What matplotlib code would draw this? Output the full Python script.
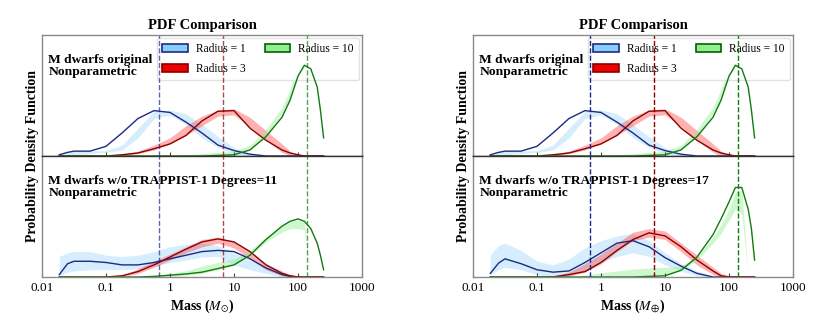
import numpy as np
import matplotlib
matplotlib.use("Agg")
import matplotlib.pyplot as plt
from matplotlib.patches import Patch

plt.rcParams['font.family'] = ['Liberation Serif', 'DejaVu Serif']
plt.rcParams['mathtext.fontset'] = 'stix'

# shared mass grid (log10 of Earth masses)
log_mass = [-1.73, -1.6, -1.5, -1.25, -1.0, -0.75, -0.5, -0.25, 0.0, 0.25, 0.5, 0.75,
            1.0, 1.25, 1.5, 1.75, 1.875, 2.0, 2.1, 2.2, 2.3, 2.35, 2.4]

# "M dwarfs original" (same in both columns)
orig_r1 = [0.01, 0.03, 0.04, 0.04, 0.08, 0.19, 0.31, 0.375, 0.36, 0.28, 0.19, 0.09,
           0.045, 0.015, 0, 0, 0, 0, 0, 0, 0, 0, 0]
orig_r1_lo = [0, 0.005, 0.01, 0.02, 0.03, 0.05, 0.15, 0.31, 0.34, 0.26, 0.15, 0.07,
              0.02, 0, 0, 0, 0, 0, 0, 0, 0, 0, 0]
orig_r1_hi = [0, 0.03, 0.04, 0.04, 0.045, 0.09, 0.23, 0.37, 0.38, 0.35, 0.26, 0.16,
              0.07, 0.01, 0, 0, 0, 0, 0, 0, 0, 0, 0]
orig_r3 = [0, 0, 0, 0, 0, 0.01, 0.025, 0.06, 0.10, 0.17, 0.29, 0.37,
           0.375, 0.23, 0.13, 0.05, 0.025, 0.01, 0, 0, 0, 0, 0]
orig_r3_lo = [0, 0, 0, 0, 0, 0, 0.02, 0.05, 0.10, 0.17, 0.25, 0.33,
              0.34, 0.24, 0.13, 0.03, 0, 0, 0, 0, 0, 0, 0]
orig_r3_hi = [0, 0, 0, 0, 0, 0.015, 0.04, 0.09, 0.15, 0.25, 0.33, 0.38,
              0.39, 0.32, 0.21, 0.10, 0.04, 0.01, 0.005, 0.005, 0.005, 0.005, 0.005]
orig_r10 = [0, 0, 0, 0, 0, 0, 0, 0, 0, 0, 0, 0.005,
            0.01, 0.05, 0.16, 0.32, 0.46, 0.66, 0.75, 0.72, 0.57, 0.38, 0.15]
orig_r10_lo = [0, 0, 0, 0, 0, 0, 0, 0, 0, 0, 0.005, 0.01,
               0.02, 0.06, 0.17, 0.35, 0.48, 0.66, 0.72, 0, 0, 0, 0]
orig_r10_hi = [0, 0, 0, 0, 0, 0, 0, 0, 0, 0.01, 0.02, 0.03,
               0.04, 0.09, 0.22, 0.40, 0.55, 0.74, 0.78, 0, 0, 0, 0]

# "w/o TRAPPIST-1, Degrees=11"
d11_r1 = [0.02, 0.11, 0.13, 0.13, 0.12, 0.10, 0.10, 0.12, 0.15, 0.18, 0.21, 0.22,
          0.21, 0.15, 0.075, 0.02, 0.005, 0, 0, 0, 0, 0, 0]
d11_r1_lo = [0.01, 0.04, 0.05, 0.06, 0.06, 0.06, 0.07, 0.09, 0.12, 0.14, 0.165, 0.17,
             0.10, 0.06, 0.03, 0, 0, 0, 0, 0, 0, 0, 0]
d11_r1_hi = [0.17, 0.20, 0.21, 0.21, 0.18, 0.17, 0.18, 0.21, 0.25, 0.27, 0.28, 0.26,
             0.20, 0.14, 0.08, 0.03, 0.01, 0, 0, 0, 0, 0, 0]
d11_r3 = [0, 0, 0, 0, 0, 0.01, 0.045, 0.10, 0.165, 0.23, 0.29, 0.315,
          0.29, 0.21, 0.10, 0.03, 0.01, 0, 0, 0, 0, 0, 0]
d11_r3_lo = [0, 0, 0, 0, 0, 0, 0.03, 0.08, 0.14, 0.20, 0.25, 0.28,
             0.24, 0.15, 0.06, 0.01, 0, 0, 0, 0, 0, 0, 0]
d11_r3_hi = [0, 0, 0, 0, 0, 0.01, 0.07, 0.13, 0.19, 0.25, 0.31, 0.33,
             0.29, 0.21, 0.11, 0.05, 0.02, 0.01, 0.005, 0.005, 0.005, 0.005, 0.005]
d11_r10 = [0, 0, 0, 0, 0, 0, 0, 0.005, 0.015, 0.025, 0.04, 0.07,
           0.10, 0.18, 0.31, 0.42, 0.46, 0.48, 0.46, 0.40, 0.28, 0.18, 0.06]
d11_r10_lo = [0, 0, 0, 0, 0, 0, 0, 0, 0.005, 0.015, 0.03, 0.06,
              0.10, 0.18, 0.29, 0.37, 0.40, 0.40, 0.39, 0, 0, 0, 0]
d11_r10_hi = [0, 0, 0, 0, 0, 0, 0, 0.01, 0.03, 0.05, 0.09, 0.12,
              0.15, 0.22, 0.33, 0.42, 0.46, 0.47, 0.45, 0, 0, 0, 0]

# "w/o TRAPPIST-1, Degrees=17"
d17_r1 = [0.03, 0.115, 0.15, 0.11, 0.06, 0.04, 0.05, 0.12, 0.20, 0.28, 0.30, 0.25,
          0.16, 0.09, 0.03, 0, 0, 0, 0, 0, 0, 0, 0]
d17_r1_lo = [0.02, 0.06, 0.08, 0.06, 0.02, 0, 0, 0.05, 0.12, 0.17, 0.20, 0.17,
             0.10, 0.05, 0.01, 0, 0, 0, 0, 0, 0, 0, 0]
d17_r1_hi = [0.18, 0.26, 0.28, 0.22, 0.13, 0.10, 0.15, 0.24, 0.30, 0.34, 0.36, 0.30,
             0.20, 0.11, 0.05, 0.01, 0, 0, 0, 0, 0, 0, 0]
d17_r3 = [0, 0, 0, 0, 0, 0, 0.02, 0.045, 0.12, 0.22, 0.31, 0.365,
          0.34, 0.25, 0.14, 0.05, 0.01, 0, 0, 0, 0, 0, 0]
d17_r3_lo = [0, 0, 0, 0, 0, 0, 0.01, 0.04, 0.11, 0.21, 0.30, 0.33,
             0.31, 0.21, 0.10, 0.02, 0, 0, 0, 0, 0, 0, 0]
d17_r3_hi = [0, 0, 0, 0, 0, 0.01, 0.04, 0.11, 0.19, 0.28, 0.37, 0.40,
             0.38, 0.28, 0.18, 0.08, 0.03, 0.01, 0.005, 0.005, 0.005, 0.005, 0.005]
d17_r10 = [0, 0, 0, 0, 0, 0, 0, 0, 0, 0, 0, 0.005,
           0.01, 0.055, 0.165, 0.35, 0.48, 0.62, 0.74, 0.74, 0.56, 0.40, 0.14]
d17_r10_lo = [0, 0, 0, 0, 0, 0, 0, 0, 0, 0, 0.005, 0.01,
              0.02, 0.055, 0.14, 0.28, 0.36, 0.47, 0.56, 0.52, 0, 0, 0]
d17_r10_hi = [0, 0, 0, 0, 0, 0, 0, 0.015, 0.035, 0.05, 0.065, 0.075,
              0.08, 0.09, 0.17, 0.33, 0.43, 0.56, 0.70, 0.72, 0, 0, 0]

# vertical reference masses for radius 1, 3, 10
ref_mass = [0.67, 6.7, 138]

labels = ['Radius = 1', 'Radius = 3', 'Radius = 10']
line_colors = ['#1c2a85', '#8b0000', '#117a11']
band_colors = ['#87CEFA', '#ff2020', '#90EE90']
band_alpha = [0.35, 0.35, 0.45]
patch_faces = ['#87CEFA', '#ee0000', '#90EE90']
patch_edges = ['#1c2a85', '#8b0000', '#006400']

ticks = [0.01, 0.1, 1, 10, 100, 1000]
tick_labels = ['0.01', '0.1', '1', '10', '100', '1000']

mass = 10 ** np.array(log_mass)

orig = [(orig_r1, orig_r1_lo, orig_r1_hi), (orig_r3, orig_r3_lo, orig_r3_hi),
        (orig_r10, orig_r10_lo, orig_r10_hi)]
d11 = [(d11_r1, d11_r1_lo, d11_r1_hi), (d11_r3, d11_r3_lo, d11_r3_hi),
       (d11_r10, d11_r10_lo, d11_r10_hi)]
d17 = [(d17_r1, d17_r1_lo, d17_r1_hi), (d17_r3, d17_r3_lo, d17_r3_hi),
       (d17_r10, d17_r10_lo, d17_r10_hi)]

W, H = 831, 326
fig = plt.figure(figsize=(W / 100, H / 100), dpi=100)

columns = [
    dict(x0=42, bottom=d11, deg='11', vl_alpha=0.7, unit=r'Mass ($M_{\odot}$)', ylab_x=33),
    dict(x0=473, bottom=d17, deg='17', vl_alpha=1.0, unit=r'Mass ($M_{\oplus}$)', ylab_x=463),
]


def draw(ax, curves, vl_alpha):
    for (line, lo, hi), lc, bc, ba in zip(curves, line_colors, band_colors, band_alpha):
        ax.fill_between(mass, lo, hi, color=bc, alpha=ba, lw=0)
        ax.plot(mass, line, color=lc, lw=1.0)
    for m, lc in zip(ref_mass, line_colors):
        ax.axvline(m, color=lc, ls='--', lw=1.0, alpha=vl_alpha)
    ax.set_xscale('log')
    ax.set_xlim(0.01, 1000)
    ax.set_ylim(0, 1.0)
    ax.set_yticks([])
    ax.set_xticks(ticks)
    ax.set_xticklabels(tick_labels)
    ax.minorticks_off()
    ax.tick_params(axis='x', direction='in', length=3, labelsize=9.5, color='#444444')
    for s in ax.spines.values():
        s.set_color('#8a8a8a')
        s.set_linewidth(1.0)


for col in columns:
    x0 = col['x0'] / W
    w = 320 / W
    ax_top = fig.add_axes([x0, (H - 156) / H, w, 121 / H])
    ax_bot = fig.add_axes([x0, (H - 277) / H, w, 121 / H])

    draw(ax_top, orig, col['vl_alpha'])
    draw(ax_bot, col['bottom'], col['vl_alpha'])
    ax_top.spines['bottom'].set_color('#333333')
    ax_bot.spines['top'].set_color('#333333')
    ax_top.tick_params(axis='x', labelbottom=False)

    ax_top.set_title('PDF Comparison', fontsize=10.5, fontweight='bold', pad=4)

    handles = [Patch(facecolor=f, edgecolor=e, lw=1.2, label=l)
               for f, e, l in zip(patch_faces, patch_edges, labels)]
    leg = ax_top.legend(handles=handles, ncol=2, loc='upper right', fontsize=8.3,
                        handlelength=2.2, handleheight=0.75, columnspacing=1.7,
                        handletextpad=0.7, borderpad=0.45, labelspacing=0.7,
                        framealpha=0.85, edgecolor='#dddddd', borderaxespad=0.25)
    leg.set_zorder(1)

    ax_top.text(0.02, 0.845, 'M dwarfs original\nNonparametric', transform=ax_top.transAxes,
                fontsize=9.7, fontweight='bold', va='top', ha='left', linespacing=1.05,
                zorder=5)
    ax_bot.text(0.02, 0.845, 'M dwarfs w/o TRAPPIST-1 Degrees=' + col['deg'] + '\nNonparametric',
                transform=ax_bot.transAxes, fontsize=9.7, fontweight='bold',
                va='top', ha='left', linespacing=1.05)

    ax_bot.set_xlabel(col['unit'], fontsize=10, fontweight='bold', labelpad=3)
    fig.text(col['ylab_x'] / W, (H - 156) / H, 'Probability Density Function',
             rotation=90, ha='center', va='center', fontsize=10, fontweight='bold')

fig.savefig('out.png', dpi=100)
